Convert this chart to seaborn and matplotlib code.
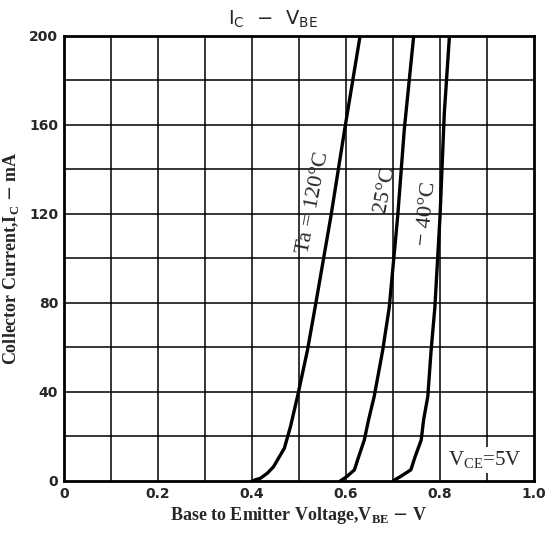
import numpy as np
import pandas as pd
import seaborn as sns
import matplotlib
matplotlib.use("Agg")
import matplotlib.pyplot as plt

# (V_BE in volts, I_C in mA)
v_120 = [0.40, 0.418, 0.433, 0.446, 0.469, 0.482, 0.497, 0.518, 0.536, 0.568, 0.598, 0.63]
i_120 = [0, 1.2, 3.5, 6.4, 14.7, 24.4, 38, 58.6, 80, 119, 159, 200]
v_25 = [0.588, 0.602, 0.618, 0.627, 0.639, 0.648, 0.66, 0.678, 0.692, 0.71, 0.724, 0.744]
i_25 = [0, 2, 5, 10.9, 18.4, 27.4, 38, 58.6, 78, 119, 158, 200]
v_m40 = [0.70, 0.716, 0.738, 0.747, 0.76, 0.765, 0.774, 0.781, 0.789, 0.80, 0.809, 0.82]
i_m40 = [0, 2, 5, 10.9, 18.4, 27.4, 38, 58.6, 78, 119, 165, 200]

x_ticks = [0, 0.2, 0.4, 0.6, 0.8, 1.0]
x_labels = ["0", "0.2", "0.4", "0.6", "0.8", "1.0"]
y_ticks = [0, 40, 80, 120, 160, 200]

df = pd.concat([
    pd.DataFrame(dict(v=v_120, i=i_120, ta="120")),
    pd.DataFrame(dict(v=v_25, i=i_25, ta="25")),
    pd.DataFrame(dict(v=v_m40, i=i_m40, ta="-40")),
])

sns.set_style("white")
fig = plt.figure(figsize=(5.45, 5.41), dpi=100)
ax = fig.add_axes([0.117, 0.111, 0.863, 0.8225])

# grid
for xv in np.arange(0.1, 1.0, 0.1):
    ax.axvline(xv, color="black", lw=1.1, zorder=1)
for yv in np.arange(20, 200, 20):
    ax.axhline(yv, color="black", lw=1.1, zorder=1)

sns.lineplot(data=df, x="v", y="i", units="ta", estimator=None, sort=False,
             color="black", lw=2.4, ax=ax, zorder=3)

ax.set_xlim(0, 1.0)
ax.set_ylim(0, 200)
ax.set_xticks(x_ticks)
ax.set_xticklabels(x_labels)
ax.set_yticks(y_ticks)
ax.tick_params(length=0, pad=4, labelsize=10)
for lab in ax.get_xticklabels() + ax.get_yticklabels():
    lab.set_fontweight("bold")
    lab.set_family("DejaVu Sans")
for s in ax.spines.values():
    s.set_color("black")
    s.set_linewidth(2)

ax.set_xlabel(r"Base to Emitter Voltage,V$_\mathregular{BE}$ $-$ V",
              family="Liberation Serif", fontweight="bold", fontsize=13, labelpad=3)
ax.set_ylabel(r"Collector Current,I$_\mathregular{C}$ $-$ mA",
              family="Liberation Serif", fontweight="bold", fontsize=13, labelpad=6)

fig.text(0.5, 0.965, r"I$_\mathregular{C}$  $-$  V$_\mathregular{BE}$",
         ha="center", va="center", fontsize=14, family="DejaVu Sans")

txt = dict(family="Liberation Serif", fontsize=16, ha="center", va="center", zorder=4)
ax.text(0.530, 125, "Ta = 120°C", rotation=79, **txt)
ax.text(0.684, 131, "25°C", rotation=79, **txt)
ax.text(0.773, 120, "− 40°C", rotation=84, **txt)
ax.text(0.895, 9.5, r"V$_\mathregular{CE}$=5V", family="Liberation Serif", fontsize=15,
        ha="center", va="center", zorder=4,
        bbox=dict(facecolor="white", edgecolor="none", pad=1.5))

fig.savefig("out.png", dpi=100)
